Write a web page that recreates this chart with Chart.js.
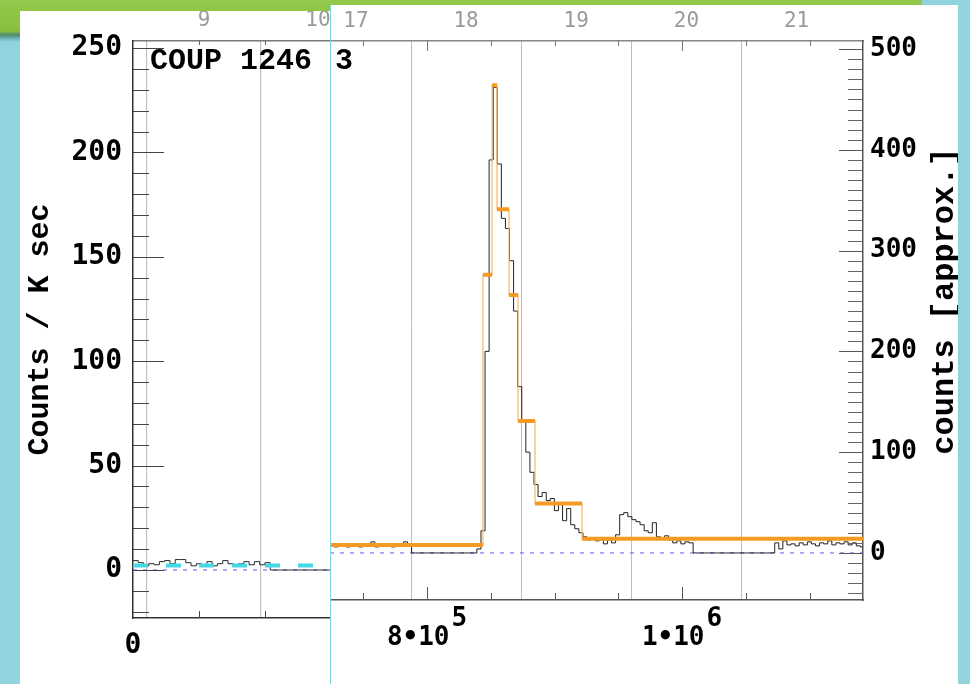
<!DOCTYPE html>
<html>
<head>
<meta charset="utf-8">
<script src="https://cdn.jsdelivr.net/npm/chart.js@4.4.1/dist/chart.umd.min.js"></script>
<style>
  html, body { margin: 0; padding: 0; }
  body { width: 970px; height: 684px; overflow: hidden; position: relative; background: #92d4dd; }
  #grass { position: absolute; left: 0; top: 0; width: 922px; height: 42px;
    background: linear-gradient(to bottom, #94c94b 0, #88c03e 31px, #4d8a70 35px, #73b9c2 39px, #92d4dd 42px); }
  .panel { position: absolute; background: #fff; }
  #leftPanel { left: 20px; top: 11px; width: 310px; height: 673px; }
  #rightPanel { left: 330px; top: 5px; width: 628px; height: 679px; }
  #rightPanel::before { content: ''; position: absolute; left: 0; top: 0; bottom: 0; width: 1px; background: #7dd5de; z-index: 2; }
  canvas { display: block; }
</style>
</head>
<body>
<div id="grass"></div>
<div class="panel" id="leftPanel"><canvas id="chart_left" width="310" height="673"></canvas></div>
<div class="panel" id="rightPanel"><canvas id="chart_flare" width="628" height="679"></canvas></div>

<script>
// ---- left panel: start of the observation (counts / ksec) ----
const leftBinSec = 4000;
const leftRate = [4.5, 3.5, 2, 3, 2.5, 4, 4.5, 3, 5, 5, 3.5, 2, 3, 2.5, 4, 2, 3, 4.5, 3, 2, 3, 4, 2.5, 4, 2.5, 3.5,
                  0, 0, 0, 0, 0, 0, 0, 0, 0, 0, 0, 0];
const leftMeanLevel = 2.2;
const leftMeanEnd = 138000;
const leftTimeRange = [0, 149300];
const leftCountRange = [-23, 253.4];
const leftCountTicks = [0, 50, 100, 150, 200, 250];
const leftTimeTicks = [0];
const leftTimeMinor = [50000, 100000];
const leftDayTicks = [9, 10];
const leftDayBounds = [8.5, 9.5];
const leftDayRef = [9, 53800];      // day number, second at its centre

// ---- right panel: the flare (counts, approx.) ----
const flareBinStart = 723900;
const flareBinSec = 3200;
const flareCounts = [
  7, 6, 8, 7, 6, 7, 9, 6, 7, 8, 11, 6, 7, 8, 7, 6, 8, 7, 11, 7,
  0, 0, 0, 0, 0, 0, 0, 0, 0, 0, 0, 0, 0, 0, 0, 0,
  4, 22, 200, 390, 462, 386, 332, 322, 290, 240, 165, 130, 100, 80, 68, 56, 60, 52, 54, 42,
  48, 32, 44, 28, 24, 20, 16, 13, 14, 12, 13, 9, 13, 10, 18, 38, 40, 36, 33, 31,
  28, 22, 20, 30, 16, 14, 17, 13, 10, 12, 9, 11, 10,
  0, 0, 0, 0, 0, 0, 0, 0, 0, 0, 0, 0, 0, 0, 0, 0, 0, 0, 0, 0,
  10, 4, 12, 8, 9, 7, 10, 8, 11, 9, 7, 10, 9, 12, 8, 10, 9, 11, 8, 10, 7, 6
];
const blockEdges = [723900, 843900, 851000, 854900, 864300, 871400, 884700, 921600, 1141950];
const blockLevels = [8, 276, 464, 341, 256, 131, 49, 14];
const flareTimeRange = [723900, 1141950];
const flareCountRange = [-46.7, 508];
const flareCountTicks = [0, 100, 200, 300, 400, 500];
const flareTimeTicks = [800000, 1000000];
const flareTimeLabels = [["8\u202210", "5"], ["1\u202210", "6"]];
const flareDayTicks = [17, 18, 19, 20, 21];
const flareDayBounds = [17.5, 18.5, 19.5, 20.5];
const flareDayRef = [17, 744250];

const MONO = '"DejaVu Sans Mono", monospace';
const COURIER = '"Liberation Mono", "Courier New", monospace';
const ORANGE = "#f59a23";

function steps(from, to, step) {
    let out = [];
    for (let v = from; v <= to + 1e-9; v += step) out.push(v);
    return out;
}

function toDay(ref, t) {
    return ref[0] + (t - ref[1]) / 86400;
}

// one point per bin start plus the closing edge; drawn with stepped "before"
function histPoints(start, width, values) {
    let pts = values.map((v, i) => ({ x: start + i * width, y: v }));
    pts.push({ x: start + values.length * width, y: values[values.length - 1] });
    return pts;
}

function fixedBox(size) {
    return function (scale) {
        if (scale.isHorizontal()) scale.height = size;
        else scale.width = size;
        scale.paddingLeft = scale.paddingRight = scale.paddingTop = scale.paddingBottom = 0;
    };
}

function setTicks(values) {
    return function (scale) { scale.ticks = values.map(v => ({ value: v })); };
}

// tick marks drawn inside the frame, IDL style
const inwardTicks = {
    id: "inwardTicks",
    afterDatasetsDraw(chart, args, opts) {
        let ctx = chart.ctx;
        let a = chart.chartArea;
        ctx.save();
        ctx.lineWidth = 1;
        (opts.marks || []).forEach(m => {
            let scale = chart.scales[m.scale];
            ctx.strokeStyle = m.color;
            ctx.beginPath();
            m.values.forEach(v => {
                let p = Math.round(scale.getPixelForValue(v)) + 0.5;
                if (m.side === "left") { ctx.moveTo(a.left, p); ctx.lineTo(a.left + m.len, p); }
                if (m.side === "right") { ctx.moveTo(a.right, p); ctx.lineTo(a.right - m.len, p); }
                if (m.side === "bottom") { ctx.moveTo(p, a.bottom); ctx.lineTo(p, a.bottom - m.len); }
                if (m.side === "top") { ctx.moveTo(p, a.top); ctx.lineTo(p, a.top + m.len); }
            });
            ctx.stroke();
        });
        ctx.restore();
    }
};

const plotText = {
    id: "plotText",
    afterDraw(chart, args, opts) {
        let ctx = chart.ctx;
        (opts.items || []).forEach(t => {
            ctx.save();
            ctx.font = t.font;
            ctx.fillStyle = t.color || "#000";
            ctx.textAlign = t.align || "left";
            ctx.textBaseline = t.baseline || "alphabetic";
            ctx.translate(t.x, t.y);
            if (t.rotate) ctx.rotate(t.rotate);
            ctx.fillText(t.text, 0, 0);
            ctx.restore();
        });
    }
};

// "8•10^5" style labels under the time axis
const powerLabels = {
    id: "powerLabels",
    afterDraw(chart, args, opts) {
        if (!opts.values) return;
        let ctx = chart.ctx;
        let scale = chart.scales.x;
        ctx.save();
        ctx.fillStyle = "#000";
        ctx.textAlign = "left";
        opts.values.forEach((v, i) => {
            let [base, exp] = opts.labels[i];
            ctx.font = opts.font;
            let wBase = ctx.measureText(base).width;
            ctx.font = opts.expFont;
            let wExp = ctx.measureText(exp).width;
            let x0 = scale.getPixelForValue(v) - (wBase + wExp + 2) / 2;
            ctx.font = opts.font;
            ctx.fillText(base, x0, opts.baseY);
            ctx.font = opts.expFont;
            ctx.fillText(exp, x0 + wBase + 2, opts.expY);
        });
        ctx.restore();
    }
};

function lineSet(data, color, width, extra) {
    return Object.assign({
        data: data, borderColor: color, borderWidth: width, pointRadius: 0,
        fill: false, tension: 0, spanGaps: false
    }, extra || {});
}

function renderLeft() {
    let ctx = document.getElementById("chart_left").getContext("2d");
    new Chart(ctx, {
        type: "line",
        data: {
            datasets: [
                lineSet([{ x: 0, y: leftMeanLevel }, { x: leftMeanEnd, y: leftMeanLevel }], "#46d9e4", 4,
                        { borderDash: [15, 18], borderCapStyle: "butt" }),
                lineSet(histPoints(0, leftBinSec, leftRate), "#2a2a2a", 1, { stepped: "before" }),
                lineSet([{ x: leftTimeRange[0], y: 0 }, { x: leftTimeRange[1], y: 0 }], "#5a5af0", 1,
                        { borderDash: [4, 6] })
            ]
        },
        options: {
            responsive: false,
            animation: false,
            devicePixelRatio: 1,
            layout: { padding: 0 },
            plugins: {
                legend: { display: false },
                tooltip: { enabled: false },
                inwardTicks: {
                    marks: [
                        { scale: "y", side: "left", len: 16, color: "#444", values: steps(-20, 250, 10) },
                        { scale: "y", side: "left", len: 31, color: "#444", values: leftCountTicks },
                        { scale: "x", side: "bottom", len: 7, color: "#444", values: leftTimeMinor },
                        { scale: "x", side: "top", len: 4, color: "#666", values: leftTimeMinor }
                    ]
                },
                plotText: {
                    items: [{ text: "COUP 1246", x: 130, y: 58, font: "bold 30px " + COURIER }]
                }
            },
            scales: {
                x: {
                    type: "linear", position: "bottom",
                    min: leftTimeRange[0], max: leftTimeRange[1],
                    afterBuildTicks: setTicks(leftTimeTicks),
                    afterFit: fixedBox(66),
                    grid: { display: false, drawTicks: false },
                    border: { color: "#333", width: 1.5 },
                    ticks: { color: "#000", padding: 11, maxRotation: 0, font: { family: MONO, size: 28, weight: "bold" } }
                },
                xTop: {
                    type: "linear", position: "top",
                    min: toDay(leftDayRef, leftTimeRange[0]), max: toDay(leftDayRef, leftTimeRange[1]),
                    afterBuildTicks: setTicks(leftDayTicks),
                    afterFit: fixedBox(30),
                    grid: { display: false, drawTicks: false },
                    border: { color: "#777", width: 1.5 },
                    ticks: { color: "#9a9a9a", padding: 8, maxRotation: 0, font: { family: MONO, size: 21 } }
                },
                xGrid: {
                    type: "linear", position: "top",
                    min: toDay(leftDayRef, leftTimeRange[0]), max: toDay(leftDayRef, leftTimeRange[1]),
                    afterBuildTicks: setTicks(leftDayBounds),
                    afterFit: fixedBox(0),
                    grid: { color: "#c2c2c2", lineWidth: 1.2, drawTicks: false },
                    border: { display: false },
                    ticks: { display: false }
                },
                y: {
                    type: "linear", position: "left",
                    min: leftCountRange[0], max: leftCountRange[1],
                    afterBuildTicks: setTicks(leftCountTicks),
                    afterFit: fixedBox(113),
                    grid: { display: false, drawTicks: false },
                    border: { color: "#333", width: 1.5 },
                    ticks: { color: "#000", padding: 11, font: { family: MONO, size: 28, weight: "bold" } },
                    title: {
                        display: true, text: "Counts / K sec", color: "#000",
                        padding: { top: 2, bottom: 0 },
                        font: { family: COURIER, size: 30, weight: "bold" }
                    }
                }
            }
        },
        plugins: [inwardTicks, plotText]
    });
}

function renderFlare() {
    let ctx = document.getElementById("chart_flare").getContext("2d");

    let blockSteps = blockLevels.map((v, i) => ({ x: blockEdges[i], y: v }));
    blockSteps.push({ x: blockEdges[blockEdges.length - 1], y: blockLevels[blockLevels.length - 1] });

    let blockBars = [];
    blockLevels.forEach((v, i) => {
        blockBars.push({ x: blockEdges[i], y: v }, { x: blockEdges[i + 1], y: v }, { x: blockEdges[i + 1], y: null });
    });

    let dayMin = toDay(flareDayRef, flareTimeRange[0]);
    let dayMax = toDay(flareDayRef, flareTimeRange[1]);

    new Chart(ctx, {
        type: "line",
        data: {
            datasets: [
                lineSet(blockBars, ORANGE, 4, { borderCapStyle: "butt" }),
                lineSet(blockSteps, "#f6b46c", 1.2, { stepped: "before" }),
                lineSet(histPoints(flareBinStart, flareBinSec, flareCounts), "#222", 1, { stepped: "before" }),
                lineSet([{ x: flareTimeRange[0], y: 0 }, { x: flareTimeRange[1], y: 0 }], "#5a5af0", 1,
                        { borderDash: [4, 6] })
            ]
        },
        options: {
            responsive: false,
            animation: false,
            devicePixelRatio: 1,
            layout: { padding: 0 },
            plugins: {
                legend: { display: false },
                tooltip: { enabled: false },
                inwardTicks: {
                    marks: [
                        { scale: "y", side: "right", len: 15, color: "#666", values: steps(-40, 500, 10) },
                        { scale: "y", side: "right", len: 24, color: "#555", values: flareCountTicks },
                        { scale: "x", side: "bottom", len: 7, color: "#555", values: steps(750000, 1100000, 50000) },
                        { scale: "x", side: "bottom", len: 13, color: "#555", values: flareTimeTicks },
                        { scale: "x", side: "top", len: 5, color: "#777", values: steps(750000, 1100000, 50000) },
                        { scale: "x", side: "top", len: 10, color: "#777", values: flareTimeTicks }
                    ]
                },
                plotText: {
                    items: [
                        { text: "3", x: 5, y: 64, font: "bold 30px " + COURIER },
                        { text: "counts [approx.]", x: 615, y: 296, font: "bold 32px " + COURIER,
                          align: "center", baseline: "middle", rotate: -Math.PI / 2 }
                    ]
                },
                powerLabels: {
                    values: flareTimeTicks, labels: flareTimeLabels,
                    font: "bold 26px " + MONO, expFont: "bold 26px " + MONO,
                    baseY: 640, expY: 621
                }
            },
            scales: {
                x: {
                    type: "linear", position: "bottom",
                    min: flareTimeRange[0], max: flareTimeRange[1],
                    afterBuildTicks: setTicks(flareTimeTicks),
                    afterFit: fixedBox(84),
                    grid: { display: false, drawTicks: false },
                    border: { color: "#555", width: 1.5 },
                    ticks: { display: false }
                },
                xTop: {
                    type: "linear", position: "top",
                    min: dayMin, max: dayMax,
                    afterBuildTicks: setTicks(flareDayTicks),
                    afterFit: fixedBox(36),
                    grid: { display: false, drawTicks: false },
                    border: { color: "#888", width: 1.5 },
                    ticks: { color: "#9a9a9a", padding: 7, maxRotation: 0, font: { family: MONO, size: 21 } }
                },
                xGrid: {
                    type: "linear", position: "top",
                    min: dayMin, max: dayMax,
                    afterBuildTicks: setTicks(flareDayBounds),
                    afterFit: fixedBox(0),
                    grid: { color: "#bdbdbd", lineWidth: 1, drawTicks: false },
                    border: { display: false },
                    ticks: { display: false }
                },
                y: {
                    type: "linear", position: "right",
                    min: flareCountRange[0], max: flareCountRange[1],
                    afterBuildTicks: setTicks(flareCountTicks),
                    afterFit: fixedBox(95),
                    grid: { display: false, drawTicks: false },
                    border: { color: "#555", width: 1.5 },
                    ticks: { color: "#000", padding: 7, font: { family: MONO, size: 26, weight: "bold" } }
                }
            }
        },
        plugins: [inwardTicks, plotText, powerLabels]
    });
}

renderLeft();
renderFlare();
</script>
</body>
</html>
